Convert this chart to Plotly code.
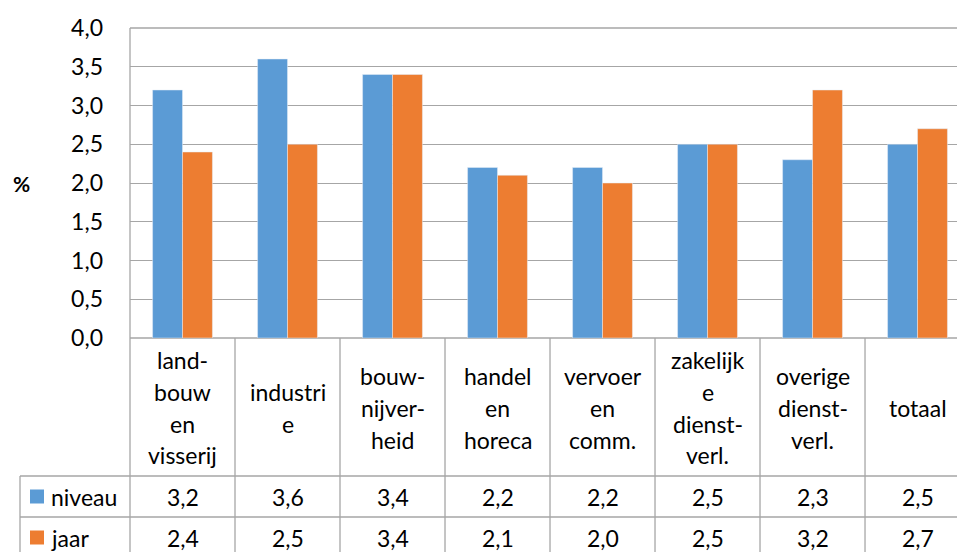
import plotly.graph_objects as go

# data
categorieen = [
    "land-<br>bouw<br>en<br>visserij",
    "industri<br>e",
    "bouw-<br>nijver-<br>heid",
    "handel<br>en<br>horeca",
    "vervoer<br>en<br>comm.",
    "zakelijk<br>e<br>dienst-<br>verl.",
    "overige<br>dienst-<br>verl.",
    "totaal",
]
niveau = [3.2, 3.6, 3.4, 2.2, 2.2, 2.5, 2.3, 2.5]
jaar = [2.4, 2.5, 3.4, 2.1, 2.0, 2.5, 3.2, 2.7]
y_ticks = [0, 0.5, 1.0, 1.5, 2.0, 2.5, 3.0, 3.5, 4.0]

BLAUW = "#5b9bd5"
ORANJE = "#ed7d31"
GRIJS = "#a6a6a6"
FONT = "Lato"
FS = 23

W, H = 957, 552
L, T, B = 130, 28, 338          # plot area in pixels
X0, X1 = -0.5, 7.376            # chart is cut off at the right edge


def xp(v):
    return (v - X0) / (X1 - X0)


def xpix(px):
    return (px - L) / (W - L)


def yp(py):
    return (B - py) / (B - T)


def fmt(v):
    return f"{v:.1f}".replace(".", ",")


idx = list(range(len(categorieen)))

fig = go.Figure()
fig.add_trace(go.Bar(x=idx, y=niveau, name="niveau", marker_color=BLAUW))
fig.add_trace(go.Bar(x=idx, y=jaar, name="jaar", marker_color=ORANJE))

shapes = []
annots = []
lijn = dict(color=GRIJS, width=1.3)

# y-axis line down to bottom of table
shapes.append(dict(type="line", xref="paper", yref="paper", x0=0, x1=0,
                   y0=1, y1=yp(H + 5), line=lijn))
# top gridline and top of header row (x-axis line)
for y in (0, 1):
    shapes.append(dict(type="line", xref="paper", yref="paper", x0=0, x1=1,
                       y0=y, y1=y, line=lijn, layer="below"))
# row separators
for py in (476, 517):
    shapes.append(dict(type="line", xref="paper", yref="paper", x0=xpix(20), x1=1,
                       y0=yp(py), y1=yp(py), line=lijn))
# left edge of legend column
shapes.append(dict(type="line", xref="paper", yref="paper", x0=xpix(20), x1=xpix(20),
                   y0=yp(476), y1=yp(H + 5), line=lijn))
# column separators
for i in idx[:-1]:
    shapes.append(dict(type="line", xref="paper", yref="paper", x0=xp(i + 0.5), x1=xp(i + 0.5),
                       y0=0, y1=yp(H + 5), line=lijn))

# header labels, line by line
regel = 32
for i, cat in enumerate(categorieen):
    regels = cat.split("<br>")
    n = len(regels)
    for j, tekst in enumerate(regels):
        py = 407.5 + (j - (n - 1) / 2) * regel
        annots.append(dict(x=xp(i), y=yp(py), xref="paper", yref="paper", text=tekst,
                           showarrow=False, xanchor="center", yanchor="middle",
                           font=dict(size=FS, color="black", family=FONT)))

# data rows + legend keys
for naam, waarden, kleur, py in (("niveau", niveau, BLAUW, 496.5), ("jaar", jaar, ORANJE, 537.5)):
    shapes.append(dict(type="rect", xref="paper", yref="paper", x0=xpix(30), x1=xpix(44),
                       y0=yp(py + 7), y1=yp(py - 7), fillcolor=kleur, line=dict(width=0)))
    annots.append(dict(x=xpix(49), y=yp(py), xref="paper", yref="paper", text=naam,
                       showarrow=False, xanchor="left", yanchor="middle",
                       font=dict(size=FS, color="black", family=FONT)))
    for i, v in enumerate(waarden):
        annots.append(dict(x=xp(i), y=yp(py), xref="paper", yref="paper", text=fmt(v),
                           showarrow=False, xanchor="center", yanchor="middle",
                           font=dict(size=FS, color="black", family=FONT)))

# y-axis title
annots.append(dict(x=xpix(22), y=yp(183), xref="paper", yref="paper", text="<b>%</b>",
                   showarrow=False, xanchor="center", yanchor="middle",
                   font=dict(size=21, color="black", family=FONT)))

fig.update_layout(
    width=W, height=H,
    margin=dict(l=L, r=0, t=T, b=H - B),
    barmode="group", bargap=0.43, bargroupgap=0,
    showlegend=False,
    plot_bgcolor="white", paper_bgcolor="white",
    separators=",.",
    font=dict(family=FONT, size=FS, color="black"),
    xaxis=dict(range=[X0, X1], showticklabels=False, showgrid=False, zeroline=False,
               fixedrange=True),
    yaxis=dict(range=[0, 4], tickvals=y_ticks, tickformat=".1f", showgrid=True,
               gridcolor=GRIJS, gridwidth=1.3, zeroline=False, ticklabelstandoff=26,
               tickfont=dict(size=FS, family=FONT, color="black")),
    shapes=shapes,
    annotations=annots,
)

fig.write_html("out.html", config={"displayModeBar": False},
               post_script="document.body.style.margin='0';document.body.style.overflow='hidden';")
